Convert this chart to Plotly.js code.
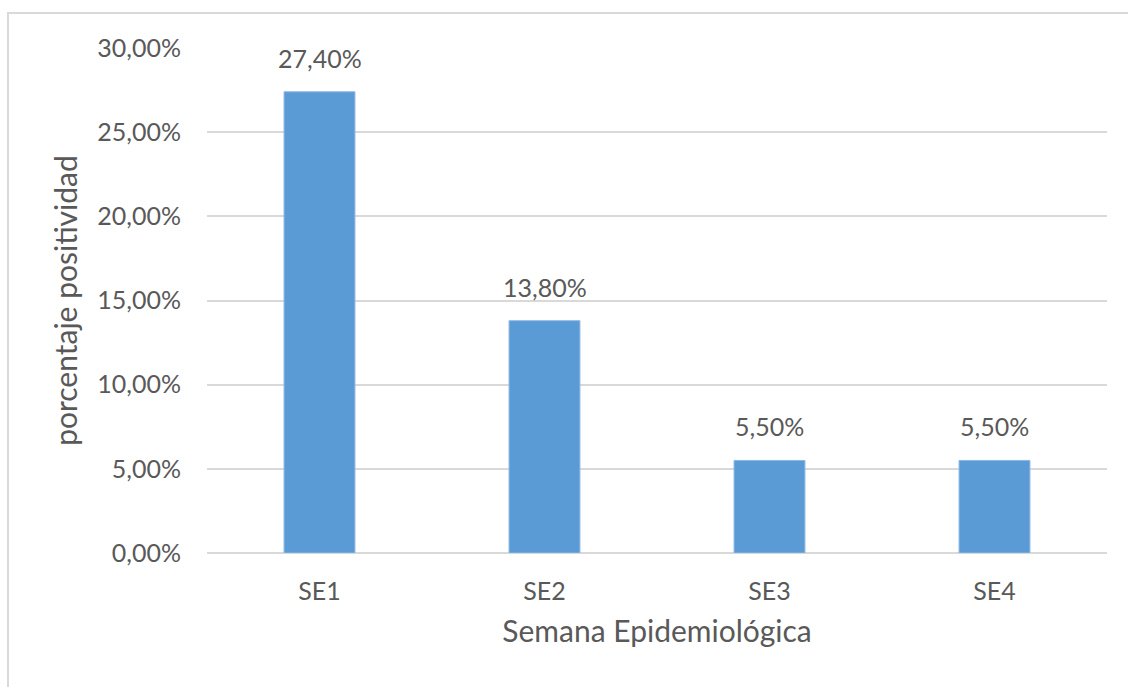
<!DOCTYPE html>
<html>
<head>
<meta charset="utf-8">
<script src="https://cdn.plot.ly/plotly-3.0.1.min.js"></script>
<style>
html,body{margin:0;padding:0;background:#fff;}
#wrap{position:relative;width:1128px;height:687px;overflow:hidden;}
#frame{position:absolute;left:7px;top:12px;width:1200px;height:800px;border-left:2px solid #d9d9d9;border-top:2px solid #d9d9d9;pointer-events:none;}
#chart{position:absolute;left:0;top:0;width:1128px;height:687px;}
</style>
</head>
<body>
<div id="wrap"><div id="chart"></div><div id="frame"></div></div>
<script>
const categories = ['SE1', 'SE2', 'SE3', 'SE4'];
const positividad = [0.274, 0.138, 0.055, 0.055];
const tickValues = [0, 0.05, 0.10, 0.15, 0.20, 0.25, 0.30];

const font = 'Lato, "Open Sans", sans-serif';
const grey = '#595959';
const tickSize = 25;
const titleSize = 30;

const trace = {
  type: 'bar',
  x: categories,
  y: positividad,
  width: 0.315,
  marker: {color: '#5B9BD5', line: {color: '#8DB8E6', width: 1}},
  hoverinfo: 'skip'
};

const annotations = categories.map((c, i) => ({
  x: c, y: positividad[i], xref: 'x', yref: 'y',
  text: (positividad[i] * 100).toFixed(2).replace('.', ',') + '%',
  showarrow: false, yanchor: 'bottom', yshift: 17,
  font: {family: font, size: tickSize, color: grey}
}));

const layout = {
  width: 1128, height: 687,
  margin: {l: 207, r: 21, t: 48, b: 134},
  paper_bgcolor: 'rgba(0,0,0,0)',
  plot_bgcolor: '#fff',
  separators: ',.',
  showlegend: false,
  font: {family: font, color: grey, size: tickSize},
  xaxis: {
    type: 'category',
    showgrid: false, zeroline: false, showline: false,
    ticks: '', ticklabelstandoff: 21,
    tickfont: {family: font, size: tickSize, color: grey},
    title: {text: 'Semana Epidemiológica', font: {family: font, size: titleSize, color: grey}, standoff: 16}
  },
  yaxis: {
    range: [0, 0.30],
    tickvals: tickValues,
    tickformat: '.2%',
    showgrid: true, gridcolor: '#d9d9d9', gridwidth: 2,
    zeroline: true, zerolinecolor: '#d9d9d9', zerolinewidth: 2,
    showline: false, ticks: '', ticklabelstandoff: 25,
    tickfont: {family: font, size: tickSize, color: grey},
    title: {text: 'porcentaje positividad', font: {family: font, size: titleSize, color: grey}, standoff: 10}
  },
  annotations: annotations
};

Plotly.newPlot('chart', [trace], layout, {displayModeBar: false, staticPlot: true});
</script>
</body>
</html>
